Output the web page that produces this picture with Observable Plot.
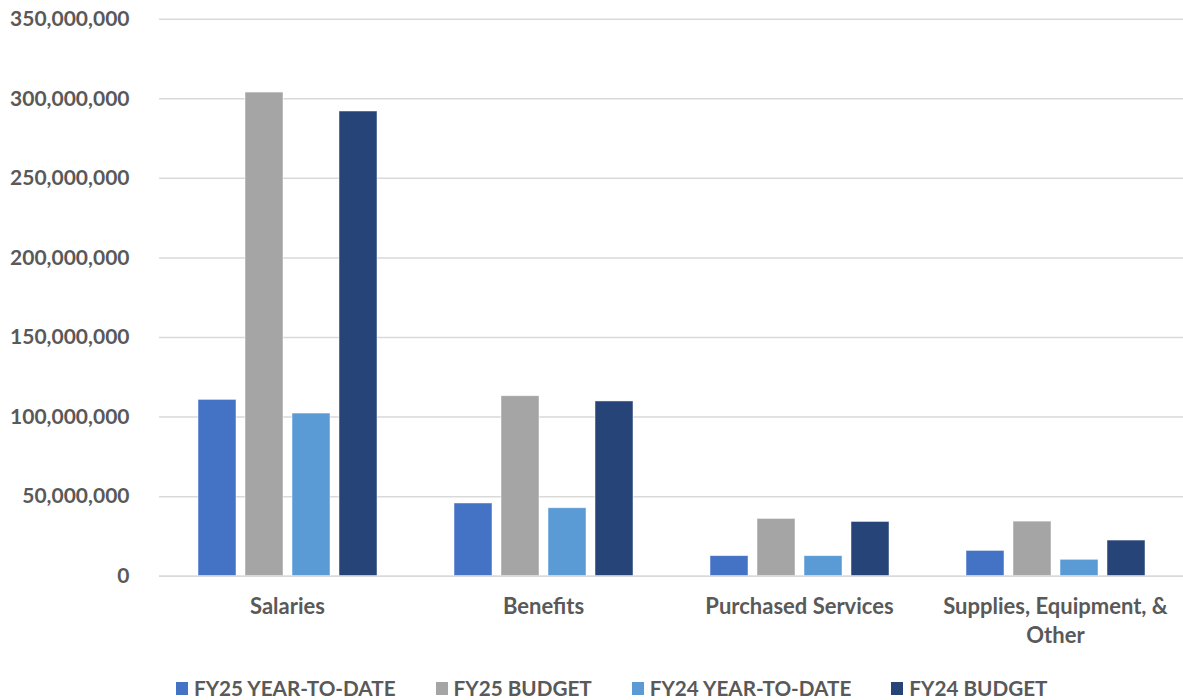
<!DOCTYPE html>
<html><head><meta charset="utf-8">
<script src="https://cdn.jsdelivr.net/npm/d3@7"></script>
<script src="https://cdn.jsdelivr.net/npm/@observablehq/plot@0.6"></script>
<style>
body{margin:0;background:#fff;font-family:Lato,sans-serif;}
#legend{display:flex;padding-left:176px;padding-top:22px;gap:40px;font-weight:bold;font-size:20.7px;line-height:22px;color:#595959;}
.item{display:flex;align-items:center;gap:6px}
.sw{width:12px;height:13px;display:inline-block}
</style></head><body><div id="chart"></div><div id="legend"></div>
<script>
const categories = ["Salaries", "Benefits", "Purchased Services", "Supplies, Equipment, & Other"];
const seriesNames = ["FY25 YEAR-TO-DATE", "FY25 BUDGET", "FY24 YEAR-TO-DATE", "FY24 BUDGET"];
const seriesColors = ["#4472C4", "#A5A5A5", "#5B9BD5", "#264478"];
const fy25YTD    = [110800000, 45700000, 12600000, 15900000];
const fy25Budget = [303900000, 113100000, 36000000, 34300000];
const fy24YTD    = [102200000, 42700000, 12600000, 10300000];
const fy24Budget = [292000000, 109800000, 34100000, 22400000];
const yTicks = [0, 50000000, 100000000, 150000000, 200000000, 250000000, 300000000, 350000000];

const seriesValues = [fy25YTD, fy25Budget, fy24YTD, fy24Budget];
const data = [];
categories.forEach((c, i) => seriesNames.forEach((s, j) => data.push({category: c, series: s, value: seriesValues[j][i]})));

const chart = Plot.plot({
  width: 1183,
  height: 655,
  marginLeft: 158,
  marginRight: 0,
  marginTop: 18.7,
  marginBottom: 79.3,
  style: {fontFamily: "Lato, sans-serif", fontSize: "21px", fontWeight: "bold", color: "#595959"},
  fx: {domain: categories, padding: 0, label: null},
  x: {domain: seriesNames, paddingInner: 0.2, paddingOuter: 0.82, axis: null},
  y: {domain: [0, 350000000], label: null},
  color: {domain: seriesNames, range: seriesColors},
  marks: [
    Plot.gridY(yTicks, {stroke: "#d9d9d9", strokeOpacity: 1, strokeWidth: 1.5}),
    Plot.axisY(yTicks, {tickSize: 0, tickPadding: 30, tickFormat: d3.format(","), fill: "#595959", fontSize: 21, fontWeight: "bold"}),
    Plot.barY(data, {fx: "category", x: "series", y: "value", fill: "series", stroke: "white", strokeWidth: 0.8, strokeOpacity: 0.6}),
    Plot.ruleY([0], {stroke: "#d9d9d9", strokeWidth: 1.5}),
    Plot.axisFx({anchor: "bottom", tickSize: 0, tickPadding: 17, lineHeight: 1.32, fill: "#595959", fontSize: 22, fontWeight: "bold",
      tickFormat: d => d === "Supplies, Equipment, & Other" ? "Supplies, Equipment, &\nOther" : d, label: null})
  ]
});
document.getElementById("chart").appendChild(chart);

const legend = document.getElementById("legend");
seriesNames.forEach((s, i) => {
  const it = document.createElement("div");
  it.className = "item";
  const sw = document.createElement("span");
  sw.className = "sw";
  sw.style.background = seriesColors[i];
  const t = document.createElement("span");
  t.textContent = s;
  it.appendChild(sw); it.appendChild(t);
  legend.appendChild(it);
});
</script>
</body></html>
